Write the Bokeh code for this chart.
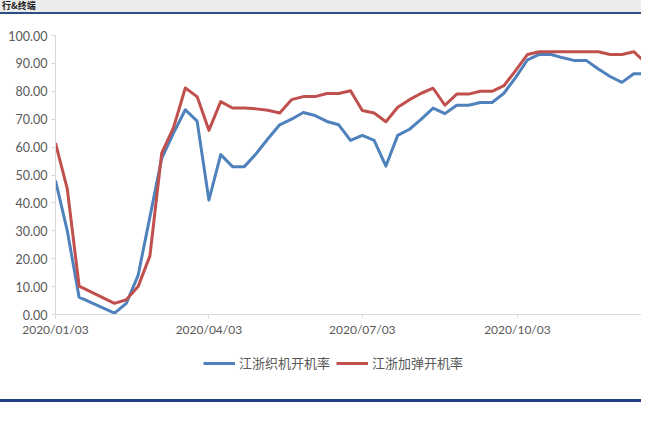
from datetime import datetime, timedelta
from bokeh.plotting import figure
from bokeh.layouts import column
from bokeh.models import (Range1d, FixedTicker, DatetimeTickFormatter, NumeralTickFormatter,
                          Legend, LegendItem, Div)
from bokeh.embed import file_html
from bokeh.resources import INLINE

# ---- data (weekly, Jan 24 / Jan 31 missing) ----
dates = ["2020-01-03", "2020-01-10", "2020-01-17", "2020-02-07", "2020-02-14", "2020-02-21",
         "2020-02-28", "2020-03-06", "2020-03-13", "2020-03-20", "2020-03-27", "2020-04-03",
         "2020-04-10", "2020-04-17", "2020-04-24", "2020-05-01", "2020-05-08", "2020-05-15",
         "2020-05-22", "2020-05-29", "2020-06-05", "2020-06-12", "2020-06-19", "2020-06-26",
         "2020-07-03", "2020-07-10", "2020-07-17", "2020-07-24", "2020-07-31", "2020-08-07",
         "2020-08-14", "2020-08-21", "2020-08-28", "2020-09-04", "2020-09-11", "2020-09-18",
         "2020-09-25", "2020-10-02", "2020-10-09", "2020-10-16", "2020-10-23", "2020-10-30",
         "2020-11-06", "2020-11-13", "2020-11-20", "2020-11-27", "2020-12-04", "2020-12-11",
         "2020-12-18", "2020-12-25"]

loom_rate = [48.0, 30.0, 6.2, 0.5, 4.0, 14.0,
             35.0, 56.0, 65.0, 73.4, 69.3, 41.0,
             57.3, 53.0, 53.0, 57.6, 63.0, 68.0,
             70.0, 72.4, 71.3, 69.2, 68.0, 62.4,
             64.2, 62.4, 53.2, 64.2, 66.4, 70.0,
             74.0, 72.0, 75.0, 75.0, 76.0, 76.0,
             79.3, 85.0, 91.3, 93.2, 93.2, 92.0,
             91.0, 91.0, 88.0, 85.3, 83.2, 86.3,
             86.3, 85.0]

texturing_rate = [61.4, 45.0, 10.2, 4.0, 5.3, 10.0,
                  21.0, 57.8, 67.0, 81.2, 78.1, 66.0,
                  76.3, 74.0, 74.0, 73.7, 73.2, 72.2,
                  77.0, 78.1, 78.1, 79.2, 79.2, 80.2,
                  73.1, 72.2, 69.1, 74.3, 77.0, 79.3,
                  81.1, 75.0, 79.0, 79.0, 80.0, 80.0,
                  82.0, 87.5, 93.2, 94.2, 94.2, 94.2,
                  94.2, 94.2, 94.2, 93.2, 93.2, 94.2,
                  90.2, 86.0]

series_names = ["江浙织机开机率", "江浙加弹开机率"]
series_colors = ["#4F81BD", "#C0504D"]
tick_dates = ["2020-01-03", "2020-04-03", "2020-07-03", "2020-10-03"]
y_ticks = [0, 10, 20, 30, 40, 50, 60, 70, 80, 90, 100]
title_text = "行&amp;终端"

# ---- build ----
W = 641
x = [datetime.strptime(d, "%Y-%m-%d") for d in dates]
epoch = datetime(1970, 1, 1)
tick_ms = [(datetime.strptime(d, "%Y-%m-%d") - epoch).total_seconds() * 1000 for d in tick_dates]

x_start = datetime(2020, 1, 3)
x_end = x_start + timedelta(days=347.6)

AX = "#d9d9d9"
LBL = "#595959"
FONT = "Lato"

# main chart: page y 14..345
p = figure(width=W, height=331, x_axis_type="datetime", title=None,
           x_range=Range1d(x_start, x_end), y_range=Range1d(0, 100),
           output_backend="svg", toolbar_location=None,
           min_border_left=55, min_border_right=0, min_border_top=21, min_border_bottom=31)
p.outline_line_color = None
p.background_fill_color = "white"
p.border_fill_color = "white"
p.grid.visible = False

p.yaxis.ticker = FixedTicker(ticks=y_ticks)
p.yaxis.formatter = NumeralTickFormatter(format="0.00")
p.xaxis.ticker = FixedTicker(ticks=tick_ms)
fmt = "%Y/%m/%d"
p.xaxis.formatter = DatetimeTickFormatter(days=fmt, months=fmt, years=fmt, hours=fmt,
                                          hourmin=fmt, minutes=fmt, minsec=fmt, seconds=fmt,
                                          milliseconds=fmt, microseconds=fmt)
for ax in (p.xaxis[0], p.yaxis[0]):
    ax.axis_line_color = AX
    ax.axis_line_width = 1
    ax.major_tick_line_color = AX
    ax.major_tick_in = 0
    ax.major_tick_out = 4
    ax.minor_tick_line_color = None
    ax.major_label_text_color = LBL
    ax.major_label_text_font = FONT
    ax.major_label_text_font_size = "12px"
p.yaxis.major_label_text_font_size = "12.5px"
p.yaxis.major_label_standoff = 4
p.xaxis.major_label_standoff = 3

p.line(x, loom_rate, line_color=series_colors[0], line_width=3, line_join="round")
p.line(x, texturing_rate, line_color=series_colors[1], line_width=3, line_join="round")

# legend strip: page y 345..399 (same series, drawn out of this strip's view; only the key shows)
lg = figure(width=W, height=54, title=None, x_axis_type="datetime",
            x_range=Range1d(x_start, x_end), y_range=Range1d(1000, 1001),
            x_axis_location=None, y_axis_location=None,
            output_backend="svg", toolbar_location=None,
            min_border_left=0, min_border_right=0, min_border_top=0, min_border_bottom=0)
lg.outline_line_color = None
lg.grid.visible = False
lg.background_fill_color = "white"
lg.border_fill_color = "white"
k1 = lg.line(x, loom_rate, line_color=series_colors[0], line_width=3)
k2 = lg.line(x, texturing_rate, line_color=series_colors[1], line_width=3)
legend = Legend(items=[LegendItem(label=series_names[0], renderers=[k1]),
                       LegendItem(label=series_names[1], renderers=[k2])],
                orientation="horizontal", location=(148, 27),
                label_text_font="Noto Sans CJK SC", label_text_font_size="13px",
                label_text_color=LBL, glyph_width=32, glyph_height=16,
                label_standoff=4, spacing=6, padding=0, margin=0,
                border_line_color=None, background_fill_alpha=0)
lg.add_layout(legend, "center")

header = Div(text=title_text, width=W, height=14, margin=0,
             styles={"background-color": "#ececec", "border-bottom": "2px solid #2e4d85",
                     "box-sizing": "border-box",
                     "font-family": "'Noto Sans CJK SC'", "font-weight": "bold",
                     "font-size": "9px", "line-height": "11px", "color": "#1a1a1a",
                     "padding-left": "2px"})
rule = Div(text="", width=W, height=3, margin=0, styles={"background-color": "#1f3f82"})
filler = Div(text="", width=W, height=6, margin=0)

layout = column(header, p, lg, rule, filler, spacing=0)

open("out.html", "w").write(file_html(layout, INLINE))
